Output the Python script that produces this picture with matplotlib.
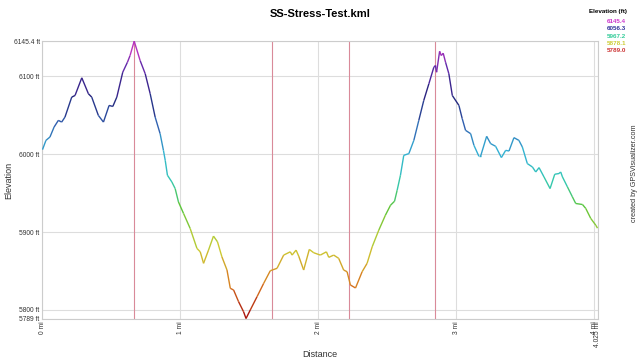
import numpy as np
import matplotlib.pyplot as plt
from matplotlib.collections import LineCollection
from matplotlib.colors import LinearSegmentedColormap, Normalize

plt.rcParams["font.family"] = ["Liberation Sans", "DejaVu Sans"]

# track profile: distance (mi) and elevation (ft)
dist_mi = [
    0.000, 0.025, 0.054, 0.084, 0.115, 0.139, 0.163, 0.212, 0.236, 0.285,
    0.333, 0.357, 0.405, 0.442, 0.483, 0.510, 0.539, 0.582, 0.616, 0.635,
    0.665, 0.708, 0.745, 0.781, 0.817, 0.853, 0.877, 0.890, 0.906, 0.938,
    0.962, 0.986, 1.023, 1.071, 1.120, 1.144, 1.168, 1.204, 1.240, 1.269,
    1.301, 1.338, 1.362, 1.386, 1.422, 1.458, 1.476, 1.507, 1.556, 1.604,
    1.652, 1.701, 1.749, 1.797, 1.810, 1.839, 1.858, 1.894, 1.935, 1.967,
    2.015, 2.059, 2.076, 2.112, 2.148, 2.184, 2.209, 2.233, 2.270, 2.318,
    2.354, 2.391, 2.439, 2.487, 2.524, 2.553, 2.572, 2.596, 2.620, 2.657,
    2.693, 2.729, 2.765, 2.802, 2.838, 2.850, 2.858, 2.880, 2.892, 2.906,
    2.923, 2.947, 2.972, 3.020, 3.044, 3.068, 3.105, 3.129, 3.165, 3.177,
    3.221, 3.250, 3.286, 3.328, 3.359, 3.383, 3.419, 3.455, 3.480, 3.516,
    3.553, 3.577, 3.601, 3.637, 3.681, 3.715, 3.746, 3.758, 3.771, 3.807,
    3.843, 3.867, 3.916, 3.940, 3.976, 4.012, 4.025,
]
elev_ft = [
    6006.0, 6017.9, 6022.2, 6035.0, 6043.6, 6041.4, 6047.8, 6073.5, 6075.6, 6098.3,
    6077.8, 6073.5, 6050.0, 6041.4, 6062.8, 6061.5, 6073.5, 6105.5, 6118.3, 6126.9,
    6145.4, 6120.5, 6103.5, 6077.8, 6047.8, 6026.5, 6005.1, 5992.3, 5973.1, 5964.5,
    5956.0, 5938.8, 5923.9, 5904.7, 5879.1, 5874.7, 5859.9, 5876.9, 5894.9, 5887.6,
    5868.3, 5851.3, 5827.8, 5825.6, 5810.6, 5797.8, 5789.0, 5800.0, 5817.1, 5834.2,
    5850.4, 5853.5, 5870.5, 5874.7, 5870.5, 5876.9, 5869.2, 5851.3, 5877.8, 5873.5,
    5870.5, 5874.7, 5867.6, 5870.5, 5866.3, 5851.3, 5849.1, 5832.1, 5828.2, 5849.1,
    5859.9, 5881.2, 5902.6, 5921.8, 5934.6, 5939.7, 5953.8, 5973.1, 5998.7, 6000.9,
    6017.9, 6043.6, 6069.2, 6090.6, 6111.9, 6114.1, 6105.5, 6132.4, 6126.9, 6129.9,
    6118.3, 6103.5, 6075.6, 6062.8, 6045.8, 6030.8, 6026.5, 6011.5, 5997.4, 5997.4,
    6023.1, 6013.7, 6010.3, 5995.8, 6005.1, 6004.2, 6021.4, 6017.9, 6009.4, 5988.1,
    5983.7, 5977.3, 5982.9, 5970.9, 5956.0, 5974.4, 5975.3, 5977.3, 5970.9, 5958.1,
    5945.3, 5936.8, 5935.5, 5930.4, 5917.6, 5909.0, 5905.1,
]

# waypoint markers (mi)
marker_mi = [0.665, 1.667, 2.226, 2.843]

ytick_vals = [5789, 5800, 5900, 6000, 6100, 6145.4]
ytick_labels = ["5789 ft", "5800 ft", "5900 ft", "6000 ft", "6100 ft", "6145.4 ft"]
xtick_vals = [0, 1, 2, 3, 4, 4.025]
xtick_labels = ["0 mi", "1 mi", "2 mi", "3 mi", "4 mi", "4.025 mi"]

legend_vals = ["6145.4", "6056.3", "5967.2", "5878.1", "5789.0"]
legend_colors = ["#cc33cc", "#333399", "#33cc99", "#cccc33", "#cc3333"]

cmap = LinearSegmentedColormap.from_list("elev", [
    (0.00, "#a50a0a"),
    (0.12, "#d9761e"),
    (0.25, "#cccc33"),
    (0.40, "#5cc63a"),
    (0.50, "#33c8b4"),
    (0.60, "#33b0d4"),
    (0.70, "#3060b0"),
    (0.80, "#23237a"),
    (0.90, "#5a28a8"),
    (1.00, "#d835c8"),
])

fig = plt.figure(figsize=(6.4, 3.61), dpi=100)
ax = fig.add_axes([0.0664, 0.1177, 0.8672, 0.7683])

x = np.array(dist_mi)
y = np.array(elev_ft)
pts = np.column_stack([x, y]).reshape(-1, 1, 2)
segs = np.concatenate([pts[:-1], pts[1:]], axis=1)
norm = Normalize(vmin=5789.0, vmax=6145.4)
lc = LineCollection(segs, cmap=cmap, norm=norm, linewidth=1.0, zorder=3)
lc.set_array((y[:-1] + y[1:]) / 2)
ax.add_collection(lc)

for m in marker_mi:
    ax.axvline(m, color="#d98a99", linewidth=0.8, zorder=2)

ax.set_xlim(0, 4.025)
ax.set_ylim(5789, 6145.4)

ax.set_yticks(ytick_vals)
ax.set_yticklabels(ytick_labels, fontsize=4.8, color="#333333")
ax.set_xticks(xtick_vals)
ax.set_xticklabels(xtick_labels, fontsize=4.8, color="#333333", rotation=90)
ax.tick_params(length=0, pad=2)
ax.grid(True, color="#dddddd", linewidth=0.8, zorder=0)
for s in ax.spines.values():
    s.set_color("#cccccc")
    s.set_linewidth(0.8)

fig.text(0.5, 0.018, "Distance", ha="center", va="center", fontsize=6.5,
         color="#333333")
fig.text(0.014, 0.5, "Elevation", ha="center", va="center", rotation=90,
         fontsize=6.5, color="#333333")
fig.text(0.5, 0.975, "SS-Stress-Test.kml", ha="center", va="top",
         fontsize=8, fontweight="bold")

# colour legend, top right
fig.text(0.98, 0.975, "Elevation (ft)", ha="right", va="top", fontsize=4.5,
         fontweight="bold")
for i, (v, c) in enumerate(zip(legend_vals, legend_colors)):
    fig.text(0.978, 0.948 - i * 0.0205, v, ha="right", va="top", fontsize=4.5,
             color=c, fontweight="bold")

fig.text(0.992, 0.52, "created by GPSVisualizer.com", rotation=90, ha="center",
         va="center", fontsize=5.2, color="#333333")

fig.savefig("out.png", dpi=100)
